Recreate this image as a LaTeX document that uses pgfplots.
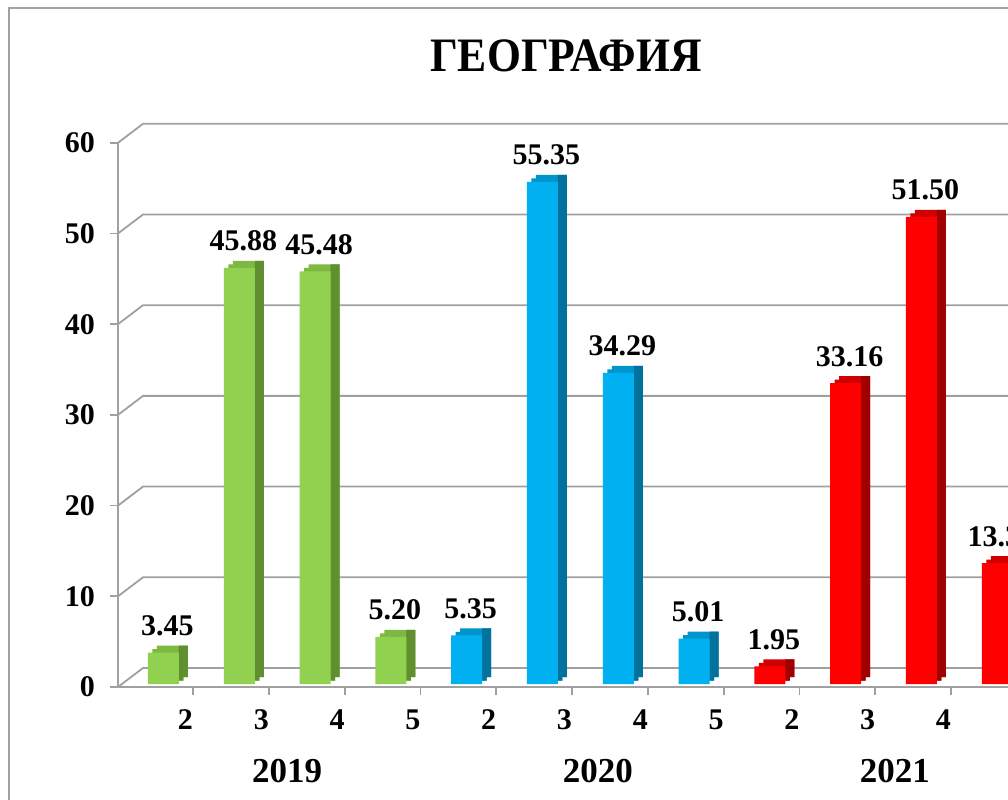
\documentclass[border=0pt]{standalone}
\usepackage{fontspec}
\setmainfont{Liberation Serif}
\usepackage{pgfplots}
\usepackage{pgfplotstable}
\pgfplotsset{compat=1.18}

\definecolor{gF}{HTML}{92D050}
\definecolor{gT}{HTML}{7DB842}
\definecolor{gS}{HTML}{5F8F2E}
\definecolor{bF}{HTML}{00B0F0}
\definecolor{bT}{HTML}{0095CC}
\definecolor{bS}{HTML}{00729C}
\definecolor{rF}{HTML}{FF0000}
\definecolor{rT}{HTML}{D00000}
\definecolor{rS}{HTML}{A00000}
\definecolor{axgray}{HTML}{A0A0A0}

\pgfplotstableread{
x y
1 3.45
2 45.88
3 45.48
4 5.20
}\tA
\pgfplotstableread{
x y
5 5.35
6 55.35
7 34.29
8 5.01
}\tB
\pgfplotstableread{
x y
9 1.95
10 33.16
11 51.50
12 13.34
}\tC

\pgfplotsset{
  topface/.style={ybar, bar width=15.5pt, bar shift=0pt, fill=#1, draw=none, xshift=4.5pt, yshift=5pt},
  tophalf/.style={ybar, bar width=15.5pt, bar shift=0pt, fill=#1, draw=none, xshift=2.25pt, yshift=3.25pt},
  sideface/.style={ybar, bar width=4.5pt, bar shift=10pt, fill=#1, draw=none, yshift=5pt},
  sidehalf/.style={ybar, bar width=2.25pt, bar shift=8.875pt, fill=#1, draw=none, yshift=3.25pt},
  frontface/.style={ybar, bar width=15.5pt, bar shift=0pt, fill=#1, draw=none, yshift=1.5pt, nodes near coords, point meta=explicit symbolic},
}

\begin{document}
\begin{tikzpicture}[font=\bfseries]
\useasboundingbox (0,0) rectangle (504pt,399.5pt);
\clip (0,0) rectangle (504pt,399.5pt);
\fill[white] (0,0) rectangle (504pt,399.5pt);
\draw[axgray, line width=0.9pt] (4.5pt,-10pt) rectangle (530pt,395.5pt);
\node[font=\fontsize{24}{28}\bfseries\selectfont] at (283pt,371.5pt) {\scalebox{0.91}[1]{ГЕОГРАФИЯ}};
\begin{axis}[
  anchor=south west, at={(59pt,56pt)},
  x=37.9pt, y=4.535pt,
  xmin=0.4, xmax=12.5, ymin=0, ymax=60,
  clip=false,
  axis x line*=bottom, axis y line*=left,
  axis line style={draw=axgray, line width=0.9pt, -},
  ytick={0,10,...,60},
  ytick style={draw=axgray, line width=0.9pt},
  tick align=outside, major tick length=4pt,
  xtick={1,...,12},
  xticklabels={2,3,4,5,2,3,4,5,2,3,4,{}},
  xtick style={draw=none},
  extra x ticks={1.39,2.39,3.39,4.39,5.39,6.39,7.39,8.39,9.39,10.39,11.39},
  extra x tick labels={},
  extra x tick style={xtick style={draw=axgray, line width=0.9pt}},
  tick label style={font=\fontsize{15}{18}\bfseries\selectfont},
  /pgf/number format/assume math mode=true,
  xticklabel style={xshift=11pt, yshift=-4pt},
  yticklabel style={xshift=-4pt},
  nodes near coords style={font=\fontsize{15}{18}\bfseries\selectfont, anchor=base, yshift=8.5pt, xshift=2pt, inner sep=0pt, text=black},
]
\pgfplotsinvokeforeach{0,10,20,30,40,50,60}{
  \draw[axgray, line width=0.9pt] (axis cs:0.4,#1) -- ++(12.5pt,9.5pt) -- ++(600pt,0pt);
}
% 2019
\addplot[topface=gT] table {\tA};
\addplot[tophalf=gT] table {\tA};
\addplot[sideface=gS] table {\tA};
\addplot[sidehalf=gS] table {\tA};
\addplot[frontface=gF] table[meta=y] {\tA};
% 2020
\addplot[topface=bT] table {\tB};
\addplot[tophalf=bT] table {\tB};
\addplot[sideface=bS] table {\tB};
\addplot[sidehalf=bS] table {\tB};
\addplot[frontface=bF] table[meta=y] {\tB};
% 2021
\addplot[topface=rT] table {\tC};
\addplot[tophalf=rT] table {\tC};
\addplot[sideface=rS] table {\tC};
\addplot[sidehalf=rS] table {\tC};
\addplot[frontface=rF] table[meta=y] {\tC};
\node[font=\fontsize{17.5}{21}\bfseries\selectfont, yshift=-42pt] at (axis cs:2.63,0) {2019};
\node[font=\fontsize{17.5}{21}\bfseries\selectfont, yshift=-42pt] at (axis cs:6.73,0) {2020};
\node[font=\fontsize{17.5}{21}\bfseries\selectfont, yshift=-42pt] at (axis cs:10.65,0) {2021};
\end{axis}
\end{tikzpicture}
\end{document}
